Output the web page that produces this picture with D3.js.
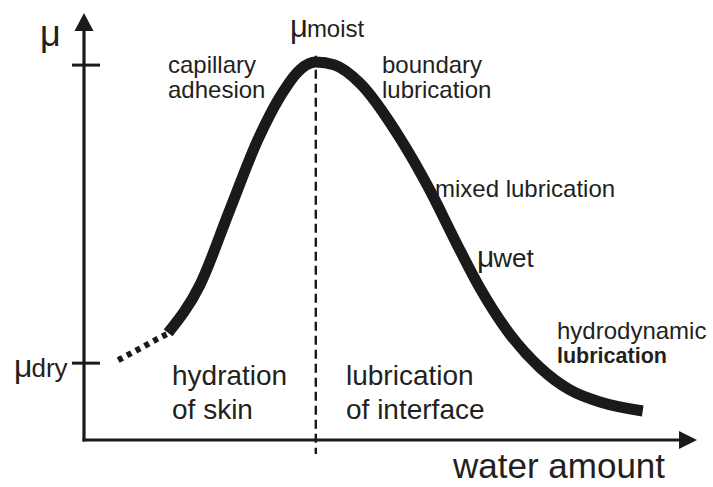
<!DOCTYPE html>
<html>
<head>
<meta charset="utf-8">
<script src="https://cdn.jsdelivr.net/npm/d3@7"></script>
<style>
  html, body { margin: 0; padding: 0; background: #fff; }
  svg { display: block; }
  text { font-family: "Liberation Sans", Arial, Helvetica, sans-serif; fill: #231f20; }
</style>
</head>
<body>
<svg id="chart" width="713" height="487"></svg>
<script>
// ---- data (water amount vs friction coefficient, arbitrary units 0-100) ----
const dryWater   = [5.6, 9.4, 13.3, 14.2];
const dryMu      = [18.7, 21.6, 24.6, 25.2];
const curveWater = [13.8, 19.0, 23.9, 28.5, 32.1, 35.4, 38.0, 41.1, 45.2, 51.8, 56.7, 60.8, 64.9, 69.8, 74.8, 79.7, 84.6, 91.6];
const curveMu    = [25.1, 36.3, 53.9, 70.3, 80.3, 86.7, 88.5, 87.8, 83.6, 70.7, 58.5, 46.8, 35.6, 24.8, 16.9, 11.7, 8.9, 6.8];
const tickMu     = [87.8, 18.0];          // mu_moist, mu_dry
const moistWater = 38.0;                  // position of mu_moist peak
const axisLabels = { x: "water amount", y: "μ" };
const muLabels   = [
  { mu: "μ", sub: "moist" },
  { mu: "μ", sub: "dry" },
  { mu: "μ", sub: "wet" }
];
const regionLines = [
  ["capillary", "adhesion"],
  ["boundary", "lubrication"],
  ["mixed lubrication"],
  ["hydrodynamic", "lubrication"],
  ["hydration", "of skin"],
  ["lubrication", "of interface"]
];

// ---- layout ----
const svg = d3.select("#chart");
const x = d3.scaleLinear().domain([0, 100]).range([84, 694]);
const y = d3.scaleLinear().domain([0, 100]).range([440, 13]);
const ink = "#1a1a1a";

// axes
const x0 = x(0), y0 = y(0);
svg.append("line").attr("x1", x0).attr("y1", y0 + 1.5).attr("x2", x0).attr("y2", y(100) + 14)
  .attr("stroke", ink).attr("stroke-width", 3.2);
svg.append("line").attr("x1", x0 - 1.5).attr("y1", y0).attr("x2", x(100) - 14).attr("y2", y0)
  .attr("stroke", ink).attr("stroke-width", 3.2);
// arrowheads
svg.append("path")
  .attr("d", `M${x0},${y(100)} L${x0 - 9.5},${y(100) + 18} L${x0 + 9.5},${y(100) + 18} Z`)
  .attr("fill", ink);
svg.append("path")
  .attr("d", `M${x(100) + 3},${y0} L${x(100) - 15},${y0 - 9} L${x(100) - 15},${y0 + 9} Z`)
  .attr("fill", ink);

// ticks on y axis
svg.selectAll("line.tick").data(tickMu).join("line").attr("class", "tick")
  .attr("x1", x0 - 12).attr("x2", x0 + 16)
  .attr("y1", d => y(d)).attr("y2", d => y(d))
  .attr("stroke", ink).attr("stroke-width", 3);

// dashed vertical line at mu_moist
svg.append("line")
  .attr("x1", x(moistWater)).attr("x2", x(moistWater))
  .attr("y1", y(90)).attr("y2", y0 + 14)
  .attr("stroke", ink).attr("stroke-width", 2.4)
  .attr("stroke-dasharray", "9,5");

// curve
const line = d3.line().x(d => x(d[0])).y(d => y(d[1])).curve(d3.curveMonotoneX);
svg.append("path")
  .attr("d", line(dryWater.map((w, i) => [w, dryMu[i]])))
  .attr("fill", "none").attr("stroke", ink).attr("stroke-width", 6)
  .attr("stroke-dasharray", "5,5");
svg.append("path")
  .attr("d", line(curveWater.map((w, i) => [w, curveMu[i]])))
  .attr("fill", "none").attr("stroke", ink).attr("stroke-width", 11);

// ---- text ----
// axis labels
svg.append("text").attr("x", 40).attr("y", 46).attr("font-size", 36).text(axisLabels.y);
svg.append("text").attr("x", 453).attr("y", 478).attr("font-size", 35).text(axisLabels.x);

// mu labels
const muPos = [
  { x: 290, y: 37, muSize: 31, subSize: 24 },
  { x: 14,  y: 377, muSize: 32, subSize: 26 },
  { x: 477, y: 267, muSize: 30, subSize: 26 }
];
muLabels.forEach((m, i) => {
  const p = muPos[i];
  const t = svg.append("text").attr("x", p.x).attr("y", p.y);
  t.append("tspan").attr("font-size", p.muSize).text(m.mu);
  t.append("tspan").attr("font-size", p.subSize).attr("dx", -1).text(m.sub);
});

// region labels
const regionPos = [
  { x: 168, y: 73,  size: 24, lh: 25 },
  { x: 382, y: 73,  size: 24, lh: 25 },
  { x: 435, y: 197, size: 24, lh: 25 },
  { x: 557, y: 339, size: 24, lh: 24, boldSecond: true },
  { x: 172, y: 385, size: 28, lh: 34 },
  { x: 346, y: 385, size: 28, lh: 34 }
];
regionLines.forEach((lines, i) => {
  const p = regionPos[i];
  lines.forEach((s, j) => {
    const t = svg.append("text").attr("x", p.x).attr("y", p.y + j * p.lh)
      .attr("font-size", p.size).text(s);
    if (p.boldSecond && j === 1) t.attr("font-weight", "bold").attr("font-size", 21.5);
  });
});
</script>
</body>
</html>
